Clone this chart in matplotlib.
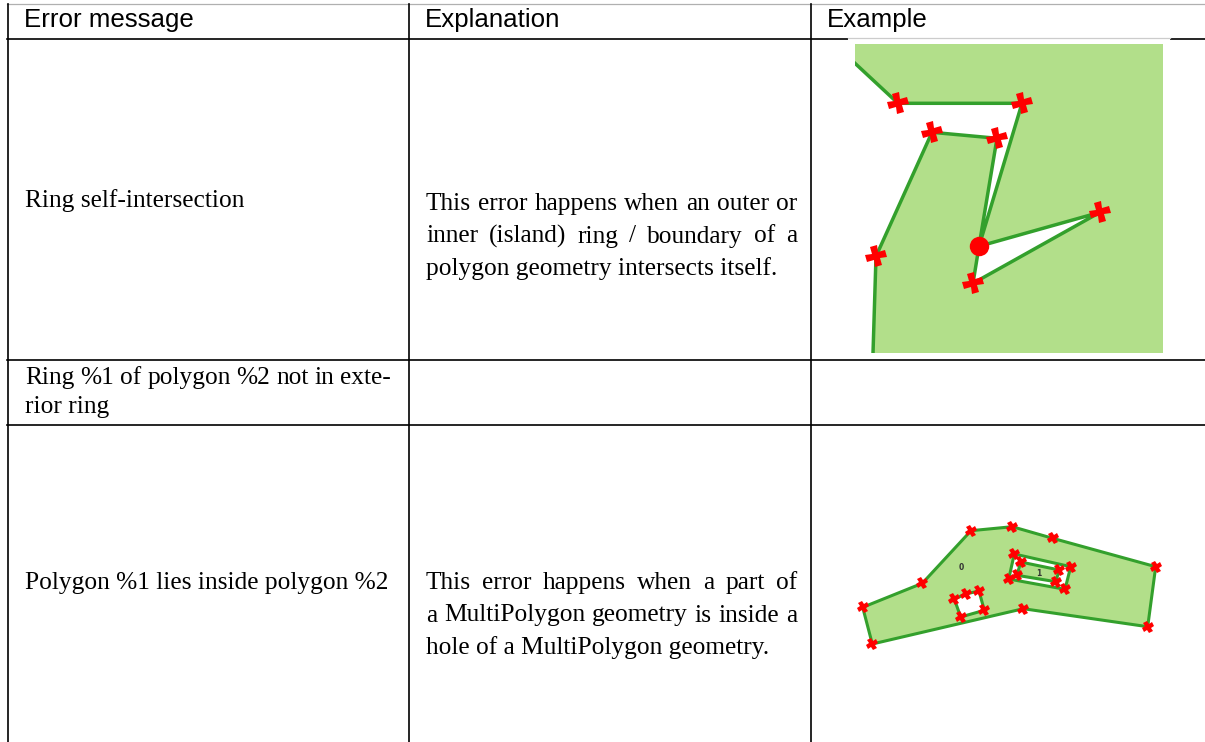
import matplotlib.pyplot as plt
from matplotlib.markers import MarkerStyle
from matplotlib.transforms import Affine2D

# figure size in pixels (dpi 100)
W, H = 1205, 742

# table content
headers = ['Error message', 'Explanation', 'Example']
messages = [['Ring self-intersection'],
            ['Ring %1 of polygon %2 not in exte-', 'rior ring'],
            ['Polygon %1 lies inside polygon %2']]
explanations = [['This error happens when an outer or',
                 'inner (island) ring / boundary of a',
                 'polygon geometry intersects itself.'],
                [],
                ['This error happens when a part of',
                 'a MultiPolygon geometry is inside a',
                 'hole of a MultiPolygon geometry.']]

# example 1: self-intersecting ring (map units)
ring_x = [0, 43, 167, 124, 245, 118, 124, 142, 77, 21, 18]
ring_y = [290, 250, 250, 107, 141, 70, 107, 215, 221, 97, 0]
ring_vertices = [1, 2, 4, 5, 7, 8, 9]
error_x, error_y = 124, 107

# example 2: multipolygon with holes (map units)
outer_x = [12.7, 72.3, 121, 162.3, 202.7, 305.7, 297.7, 173.3, 22.3]
outer_y = [52.7, 76.7, 129.3, 133.3, 121.7, 93.3, 33.3, 51.3, 16]
hole_a_x = [104.3, 115.7, 129, 134.3, 110.7]
hole_a_y = [61, 66, 69, 49.7, 43]
hole_b_x = [164.3, 220.7, 215, 158.7]
hole_b_y = [106, 93.3, 70.7, 81]
part1_x = [170.7, 209.3, 205.7, 167]
part1_y = [98, 90, 78.3, 84.7]
part_labels = ['0', '1']
label_x = [111.7, 188.7]
label_y = [92.7, 86.7]

FILL = '#b2df8a'
EDGE = '#33a02c'
RED = '#ff0000'

fig = plt.figure(figsize=(W / 100, H / 100), dpi=100)
ax = fig.add_axes([0, 0, 1, 1])
ax.set_xlim(0, W)
ax.set_ylim(H, 0)
ax.axis('off')
renderer = fig.canvas.get_renderer()

serif = dict(family='Liberation Serif', fontsize=18.3, color='black')
sans = dict(family='Liberation Sans', fontsize=18.6, color='black')


def put_line(text, x0, y, x1=None, **kw):
    # draw one line of text, spread to x1 if given (justified)
    if x1 is None:
        ax.text(x0, y, text, va='baseline', ha='left', **kw)
        return
    words = text.split(' ')
    objs = [ax.text(0, y, w, va='baseline', ha='left', **kw) for w in words]
    widths = [o.get_window_extent(renderer).width for o in objs]
    gap = (x1 - x0 - sum(widths)) / (len(words) - 1)
    x = x0
    for o, w in zip(objs, widths):
        o.set_x(x)
        x += w + gap


# table rules
line_kw = dict(color='black', lw=1.2, zorder=2)
ax.plot([7, W], [4, 4], color='#b0b0b0', lw=0.9)
for y in [38.5, 359.5, 424.5]:
    ax.plot([7, W], [y, y], **line_kw)
for x in [7.5, 408.5, 810.5]:
    ax.plot([x, x], [4, H], **line_kw)

# headers
for x, h in zip([24, 425, 827], headers):
    put_line(h, x, 27, **sans)

# left column
msg_base = [[207], [384, 413], [589]]
for lines, ys in zip(messages, msg_base):
    for i, (t, y) in enumerate(zip(lines, ys)):
        put_line(t, 25, y, 391 if i < len(lines) - 1 else None, **serif)

# middle column
exp_base = [[210, 242.5, 275], [], [589, 621.5, 654]]
for lines, ys in zip(explanations, exp_base):
    for i, (t, y) in enumerate(zip(lines, ys)):
        put_line(t, 426, y, 797 if i < len(lines) - 1 else None, **serif)

# white frame of the first example image
ax.add_patch(plt.Rectangle((848, 37), 322, 320, facecolor='white', edgecolor='none', zorder=3))
ax.plot([848, 1170], [37.5, 37.5], color='#cccccc', lw=0.9, zorder=4)

# example 1
ax1 = fig.add_axes([855 / W, 1 - 353.3 / H, 308.3 / W, 309 / H])
ax1.set_xlim(0, 308.3)
ax1.set_ylim(0, 309)
ax1.set_facecolor(FILL)
ax1.set_xticks([])
ax1.set_yticks([])
for s in ax1.spines.values():
    s.set_visible(False)
ax1.fill(ring_x + [0], ring_y + [0], color='white', lw=0)
ax1.plot(ring_x, ring_y, color=EDGE, lw=2.5, solid_joinstyle='miter')
big_cross = MarkerStyle('P', transform=Affine2D().rotate_deg(15))
ax1.plot([ring_x[i] for i in ring_vertices], [ring_y[i] for i in ring_vertices],
         ls='none', marker=big_cross, ms=14.5, color=RED, mew=0)
ax1.plot([error_x], [error_y], ls='none', marker='o', ms=14, color=RED, mew=0)

# example 2
ax2 = fig.add_axes([850 / W, 1 - 660 / H, 320 / W, 150 / H])
ax2.set_xlim(0, 320)
ax2.set_ylim(0, 150)
ax2.axis('off')
ax2.fill(outer_x, outer_y, facecolor=FILL, edgecolor=EDGE, lw=2.2)
ax2.fill(hole_a_x, hole_a_y, facecolor='white', edgecolor=EDGE, lw=2.2)
ax2.fill(hole_b_x, hole_b_y, facecolor='white', edgecolor=EDGE, lw=2.2)
ax2.fill(part1_x, part1_y, facecolor=FILL, edgecolor=EDGE, lw=2.2)
small_cross = MarkerStyle('P', transform=Affine2D().rotate_deg(30))
for xs, ys in [(outer_x, outer_y), (hole_a_x, hole_a_y), (hole_b_x, hole_b_y), (part1_x, part1_y)]:
    ax2.plot(xs, ys, ls='none', marker=small_cross, ms=9, color=RED, mew=0)
for t, x, y in zip(part_labels, label_x, label_y):
    ax2.text(x, y, t, ha='center', va='center', fontsize=5.5, fontweight='bold', color='#333333')

fig.savefig('out.png', dpi=100)
